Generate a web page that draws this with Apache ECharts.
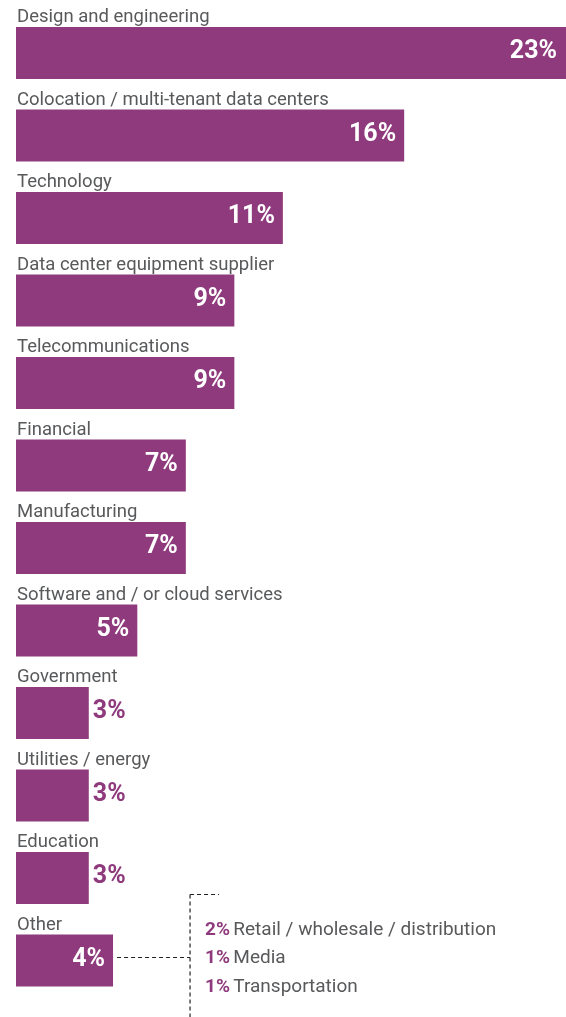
<!DOCTYPE html>
<html>
<head>
<meta charset="utf-8">
<script src="https://cdn.jsdelivr.net/npm/echarts@6/dist/echarts.min.js"></script>
<style>
html,body{margin:0;padding:0;background:#fff;}
#c{width:566px;height:1017px;}
</style>
</head>
<body>
<div id="c"></div>
<script>
const categories = [
  'Design and engineering',
  'Colocation / multi-tenant data centers',
  'Technology',
  'Data center equipment supplier',
  'Telecommunications',
  'Financial',
  'Manufacturing',
  'Software and / or cloud services',
  'Government',
  'Utilities / energy',
  'Education',
  'Other'
];
const values = [23, 16, 11, 9, 9, 7, 7, 5, 3, 3, 3, 4];
const otherNames = ['Retail / wholesale / distribution', 'Media', 'Transportation'];
const otherValues = [2, 1, 1];

const PURPLE = '#8E3A7C';
const GRAY = '#58595B';
const FONT = 'Roboto';

const chart = echarts.init(document.getElementById('c'), null, {renderer: 'canvas'});

const valueData = values.map((v, i) => {
  const small = v <= 3;
  const item = {
    value: v,
    label: small
      ? {position: 'right', color: PURPLE, distance: 4}
      : {position: 'insideRight', color: '#fff', distance: 8}
  };
  if (i === 0) item.label.distance = 17;
  return item;
});

chart.setOption({
  animation: false,
  grid: {left: 16, right: -8, top: 11.75, bottom: 15.25, containLabel: false, outerBoundsMode: 'none'},
  xAxis: {type: 'value', min: 0, max: 23, show: false},
  yAxis: {type: 'category', data: categories, inverse: true, show: false},
  series: [
    {
      type: 'bar',
      data: valueData,
      barWidth: 52,
      itemStyle: {color: PURPLE},
      label: {
        show: true,
        formatter: p => p.value + '%',
        fontFamily: FONT,
        fontWeight: 'bold',
        fontSize: 25,
        offset: [0, -1]
      },
      silent: true
    },
    {
      type: 'bar',
      data: values,
      barWidth: 52,
      barGap: '-100%',
      itemStyle: {color: 'rgba(0,0,0,0)'},
      label: {
        show: true,
        position: [1, 0],
        align: 'left',
        verticalAlign: 'bottom',
        formatter: p => p.name,
        color: GRAY,
        fontFamily: FONT,
        fontSize: 18.5
      },
      silent: true
    }
  ]
});

// annotation for "Other" breakdown
const oi = categories.indexOf('Other');
const end = chart.convertToPixel({seriesIndex: 0}, [values[oi], oi]);
const bx = end[0], by = end[1];
const vx = bx + 77;
const lineStyle = {stroke: '#222', lineWidth: 1.2, lineDash: [4, 3]};
const elements = [
  {type: 'line', shape: {x1: bx + 4, y1: by - 3, x2: vx, y2: by - 3}, style: lineStyle, silent: true},
  {type: 'line', shape: {x1: vx, y1: by - 66, x2: vx, y2: 1017}, style: lineStyle, silent: true},
  {type: 'line', shape: {x1: vx, y1: by - 66, x2: vx + 29, y2: by - 66}, style: lineStyle, silent: true}
];
otherNames.forEach((n, k) => {
  elements.push({
    type: 'text',
    silent: true,
    style: {
      x: vx + 15,
      y: by - 2 + (k - 1) * 28.5,
      verticalAlign: 'middle',
      text: '{a|' + otherValues[k] + '%} {b|' + n + '}',
      rich: {
        a: {fontFamily: FONT, fontWeight: 'bold', fontSize: 19, fill: PURPLE},
        b: {fontFamily: FONT, fontSize: 19, fill: GRAY}
      }
    }
  });
});
chart.setOption({graphic: {elements}});
</script>
</body>
</html>
